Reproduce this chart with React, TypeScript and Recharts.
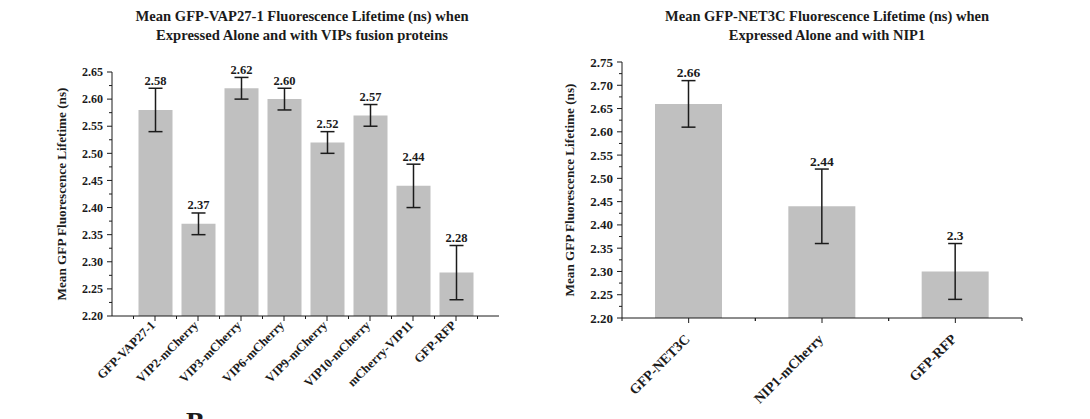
import { Bar, BarChart, ErrorBar, Label, LabelList, XAxis, YAxis } from "recharts";

const leftCategories = [
  "GFP-VAP27-1",
  "VIP2-mCherry",
  "VIP3-mCherry",
  "VIP6-mCherry",
  "VIP9-mCherry",
  "VIP10-mCherry",
  "mCherry-VIP11",
  "GFP-RFP",
];
const leftMeans = [2.58, 2.37, 2.62, 2.6, 2.52, 2.57, 2.44, 2.28];
const leftErrors = [0.04, 0.02, 0.02, 0.02, 0.02, 0.02, 0.04, 0.05];
const leftValueLabels = ["2.58", "2.37", "2.62", "2.60", "2.52", "2.57", "2.44", "2.28"];
const leftMajorTicks = [2.2, 2.25, 2.3, 2.35, 2.4, 2.45, 2.5, 2.55, 2.6, 2.65];

const rightCategories = ["GFP-NET3C", "NIP1-mCherry", "GFP-RFP"];
const rightMeans = [2.66, 2.44, 2.3];
const rightErrors = [0.05, 0.08, 0.06];
const rightValueLabels = ["2.66", "2.44", "2.3"];
const rightMajorTicks = [2.2, 2.25, 2.3, 2.35, 2.4, 2.45, 2.5, 2.55, 2.6, 2.65, 2.7, 2.75];

const leftTitle = ["Mean GFP-VAP27-1 Fluorescence Lifetime (ns) when", "Expressed Alone and with VIPs fusion proteins"];
const rightTitle = ["Mean GFP-NET3C Fluorescence Lifetime (ns) when", "Expressed Alone and with NIP1"];
const yLabel = "Mean GFP Fluorescence Lifetime (ns)";

const serif = '"Liberation Serif", "Times New Roman", serif';
const ink = "#1b1b1b";
const barFill = "#c0c0c0";

const leftData = leftCategories.map((name, i) => ({ name, mean: leftMeans[i], err: leftErrors[i] }));
const rightData = rightCategories.map((name, i) => ({ name, mean: rightMeans[i], err: rightErrors[i] }));

function withMinor(major: number[]) {
  const out: number[] = [];
  major.forEach((v, i) => {
    out.push(v);
    if (i < major.length - 1) out.push((v + major[i + 1]) / 2);
  });
  return out;
}

function makeYTick(majors: number[], fontSize: number) {
  return (props: any) => {
    const { x, y, payload } = props;
    const major = majors.some((m) => Math.abs(m - payload.value) < 1e-6);
    return (
      <g>
        <line x1={x - (major ? 5 : 3)} x2={x} y1={y} y2={y} stroke={ink} strokeWidth={1} />
        {major && (
          <text x={x - 9} y={y} dy="0.35em" textAnchor="end" fontSize={fontSize} fontWeight="bold" fontFamily={serif} fill={ink}>
            {Number(payload.value).toFixed(2)}
          </text>
        )}
      </g>
    );
  };
}

function makeXTick(band: number, fontSize: number, dx: number, dy: number) {
  return (props: any) => {
    const { x, y, payload } = props;
    const ax = x + dx;
    const ay = y + dy;
    return (
      <g>
        <line x1={x} x2={x} y1={y} y2={y + 5} stroke={ink} strokeWidth={1} />
        <line x1={x - band / 2} x2={x - band / 2} y1={y} y2={y + 3} stroke={ink} strokeWidth={1} />
        <line x1={x + band / 2} x2={x + band / 2} y1={y} y2={y + 3} stroke={ink} strokeWidth={1} />
        <text x={ax} y={ay} textAnchor="end" transform={`rotate(-45 ${ax} ${ay})`} fontSize={fontSize} fontWeight="bold" fontFamily={serif} fill={ink}>
          {payload.value}
        </text>
      </g>
    );
  };
}

function makeValueLabel(means: number[], errors: number[], labels: string[], base: number, fontSize: number) {
  return (props: any) => {
    const { x, y, width, height, index } = props;
    const pxPerUnit = height / (means[index] - base);
    const top = y - errors[index] * pxPerUnit;
    return (
      <text x={x + width / 2} y={top - 3.5} textAnchor="middle" fontSize={fontSize} fontWeight="bold" fontFamily={serif} fill={ink}>
        {labels[index]}
      </text>
    );
  };
}

function makeYLabel(offset: number, fontSize: number) {
  return (props: any) => {
    const vb = props.viewBox;
    const cx = vb.x + offset;
    const cy = vb.y + vb.height / 2;
    return (
      <text x={cx} y={cy} textAnchor="middle" transform={`rotate(-90 ${cx} ${cy})`} fontSize={fontSize} fontWeight="bold" fontFamily={serif} fill={ink}>
        {yLabel}
      </text>
    );
  };
}

function Title({ lines, cx, fontSize }: { lines: string[]; cx: number; fontSize: number }) {
  return (
    <>
      {lines.map((line, i) => (
        <text key={i} x={cx} y={21 + i * 19} textAnchor="middle" fontSize={fontSize} fontWeight="bold" fontFamily={serif} fill={ink}>
          {line}
        </text>
      ))}
    </>
  );
}

export default function App() {
  return (
    <div style={{ position: "absolute", left: 0, top: 0, width: 1090, height: 419, background: "#fff", overflow: "hidden" }}>
      <div style={{ position: "absolute", left: 0, top: 0 }}>
        <BarChart width={520} height={419} data={leftData} margin={{ top: 72, right: 21, bottom: 0, left: 0 }}>
          <XAxis
            dataKey="name"
            type="category"
            height={103}
            padding={{ left: 21.5, right: 21.5 }}
            interval={0}
            tickSize={0}
            tickMargin={0}
            tickLine={false}
            axisLine={{ stroke: ink, strokeWidth: 1 }}
            tick={makeXTick(43, 12.5, 1, 10)}
          />
          <YAxis
            type="number"
            width={112}
            domain={[2.2, 2.65]}
            ticks={withMinor(leftMajorTicks)}
            interval={0}
            tickSize={0}
            tickMargin={0}
            tickLine={false}
            axisLine={{ stroke: ink, strokeWidth: 1 }}
            tick={makeYTick(leftMajorTicks, 12)}
          >
            <Label content={makeYLabel(66, 13.2)} />
          </YAxis>
          <Bar dataKey="mean" fill={barFill} barSize={34} isAnimationActive={false}>
            <ErrorBar dataKey="err" width={7} stroke={ink} strokeWidth={1.5} isAnimationActive={false} />
            <LabelList dataKey="mean" content={makeValueLabel(leftMeans, leftErrors, leftValueLabels, leftMajorTicks[0], 12.5)} />
          </Bar>
        </BarChart>
      </div>
      <div style={{ position: "absolute", left: 540, top: 0 }}>
        <BarChart width={550} height={419} data={rightData} margin={{ top: 62, right: 68, bottom: 0, left: 0 }}>
          <XAxis
            dataKey="name"
            type="category"
            height={101}
            interval={0}
            tickSize={0}
            tickMargin={0}
            tickLine={false}
            axisLine={{ stroke: ink, strokeWidth: 1 }}
            tick={makeXTick(133.33, 14, 2, 22)}
          />
          <YAxis
            type="number"
            width={82}
            domain={[2.2, 2.75]}
            ticks={withMinor(rightMajorTicks)}
            interval={0}
            tickSize={0}
            tickMargin={0}
            tickLine={false}
            axisLine={{ stroke: ink, strokeWidth: 1 }}
            tick={makeYTick(rightMajorTicks, 13)}
          >
            <Label content={makeYLabel(34, 13.2)} />
          </YAxis>
          <Bar dataKey="mean" fill={barFill} barSize={67} isAnimationActive={false}>
            <ErrorBar dataKey="err" width={7} stroke={ink} strokeWidth={1.5} isAnimationActive={false} />
            <LabelList dataKey="mean" content={makeValueLabel(rightMeans, rightErrors, rightValueLabels, rightMajorTicks[0], 13.5)} />
          </Bar>
        </BarChart>
      </div>
      <svg width={1090} height={419} style={{ position: "absolute", left: 0, top: 0, pointerEvents: "none" }}>
        <Title lines={leftTitle} cx={302} fontSize={14.6} />
        <Title lines={rightTitle} cx={827} fontSize={14.5} />
        <text x={186} y={431} fontSize={28} fontWeight="bold" fontFamily={serif} fill={ink}>
          B
        </text>
      </svg>
    </div>
  );
}
